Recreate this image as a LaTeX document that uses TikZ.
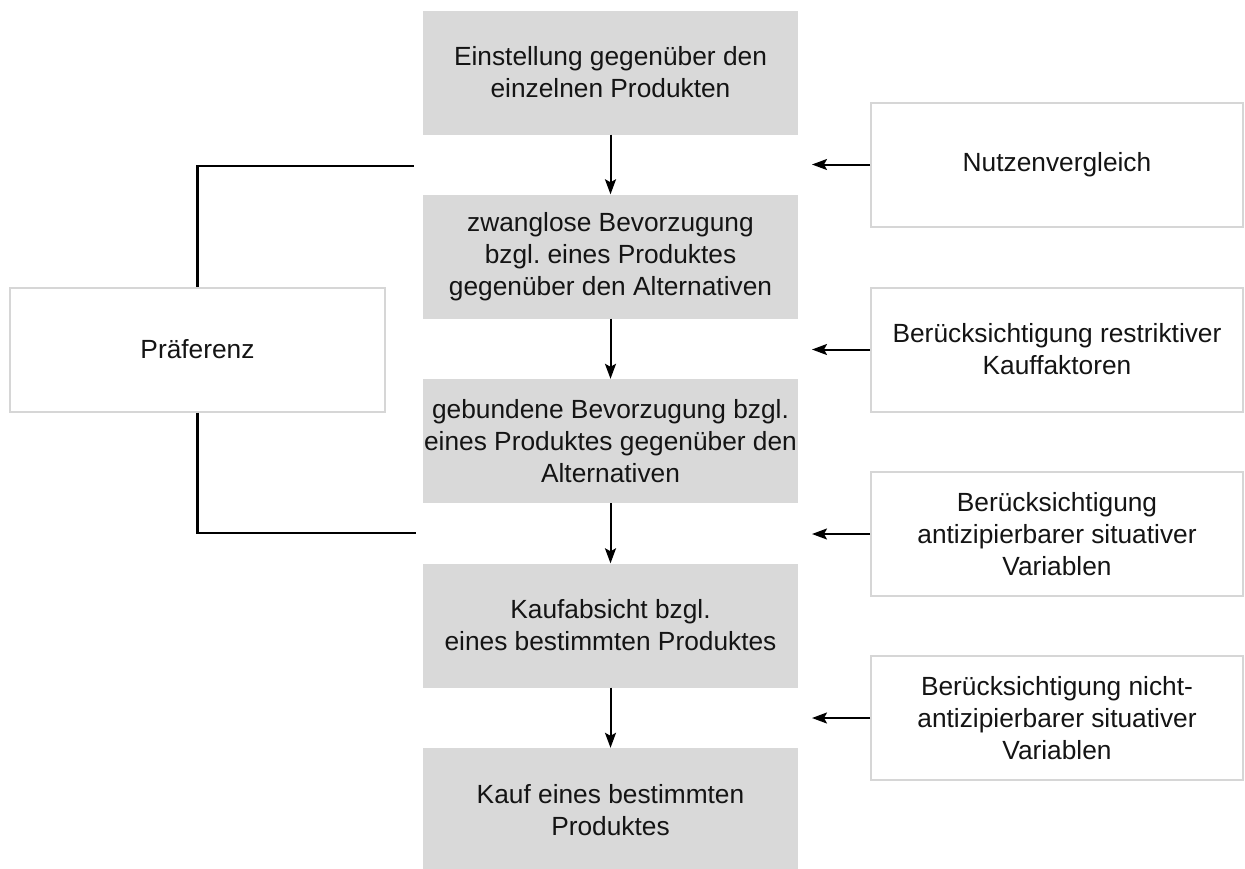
\documentclass[tikz,border=0pt]{standalone}
\usepackage{fontspec}
\setmainfont{Liberation Sans}
\usetikzlibrary{arrows.meta}
\definecolor{stagegray}{HTML}{D9D9D9}
\definecolor{framegray}{HTML}{D6D6D6}
\definecolor{textc}{HTML}{141414}
\frenchspacing
\begin{document}
\begin{tikzpicture}[x=1pt,y=-1pt,
  boxtext/.style={align=center, inner sep=0pt, text=textc, font=\fontsize{26.3}{32}\selectfont},
  stage/.style={boxtext, rectangle, fill=stagegray, draw=none, minimum width=375pt, minimum height=124pt},
  factor/.style={boxtext, rectangle, fill=white, draw=framegray, line width=2pt, minimum width=372pt, minimum height=124pt},
  link/.style={line width=2pt, -{Stealth[length=15pt,width=11pt,inset=3pt]}},
  bracket/.style={line width=2.2pt}
]
\clip (0,0) rectangle (1245,868);

% decision stages (centre column)
\node[stage] (s1) at (610.5,72.5) {Einstellung gegenüber den\\einzelnen Produkten};
\node[stage] (s2) at (610.5,256.5) {zwanglose Bevorzugung\\bzgl.\ eines Produktes\\gegenüber den Alternativen};
\node[stage] (s3) at (610.5,441) {gebundene Bevorzugung bzgl.\\eines Produktes gegenüber den\\Alternativen};
\node[stage] (s4) at (610.5,625.5) {Kaufabsicht bzgl.\\eines bestimmten Produktes};
\node[stage] (s5) at (610.5,810) {Kauf eines bestimmten\\Produktes};

% influencing factors (right column)
\node[factor] (f1) at (1057,164.5) {Nutzenvergleich};
\node[factor] (f2) at (1057,349.5) {Berücksichtigung restriktiver\\Kauffaktoren};
\node[factor] (f3) at (1057,534) {Berücksichtigung\\antizipierbarer situativer\\Variablen};
\node[factor] (f4) at (1057,718) {Berücksichtigung nicht-\\antizipierbarer situativer\\Variablen};

% preference span (left)
\node[factor, minimum width=375pt] (pref) at (197.5,349.5) {Präferenz};

% flow between stages
\draw[link] (s1) -- (s2);
\draw[link] (s2) -- (s3);
\draw[link] (s3) -- (s4);
\draw[link] (s4) -- (s5);

% factors acting on the transitions
\coordinate (t1) at (812,164.5);
\coordinate (t2) at (812,349.5);
\coordinate (t3) at (812,534);
\coordinate (t4) at (812,718);
\draw[link] (f1.west) -- (t1);
\draw[link] (f2.west) -- (t2);
\draw[link] (f3.west) -- (t3);
\draw[link] (f4.west) -- (t4);

% bracket marking the preference stages
\coordinate (bt) at (414,166);
\coordinate (bb) at (416,533);
\draw[bracket] (pref.north) |- (bt);
\draw[bracket] (pref.south) |- (bb);
\end{tikzpicture}
\end{document}
